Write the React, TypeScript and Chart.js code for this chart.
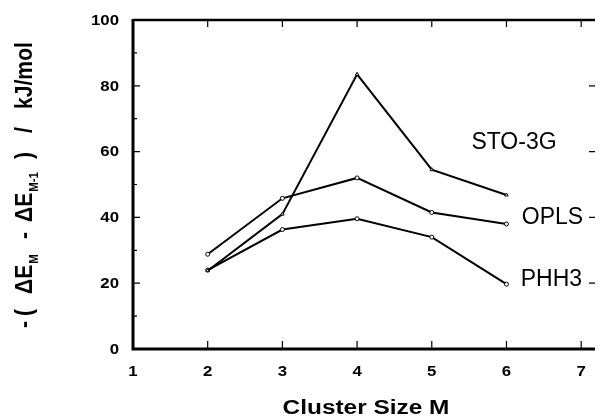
import React, { useEffect, useRef } from "react";
import { Chart, registerables } from "chart.js";
Chart.register(...registerables);

const clusterSizes = [2, 3, 4, 5, 6];
const sto3g = [23.8, 41.0, 83.5, 54.5, 46.8];
const opls = [28.8, 45.8, 52.0, 41.5, 38.0];
const phh3 = [24.0, 36.3, 39.6, 34.0, 19.7];
const xTickValues = [1, 2, 3, 4, 5, 6, 7];
const yTickValues = [0, 20, 40, 60, 80, 100];
const yMinorTickValues = [10, 30, 50, 70, 90];
const seriesNames = ["STO-3G", "OPLS", "PHH3"];
const xTitle = "Cluster Size M";
// y-axis title pieces: [text, offset along the text line in px (null = right after previous), subscript?]
const yTitleParts: [string, number | null, boolean][] = [
  ["-", 0, false],
  ["(", 12, false],
  ["ΔE", 34, false],
  ["M", null, true],
  ["-", 89, false],
  ["ΔE", 106, false],
  ["M-1", null, true],
  [")", 169, false],
  ["/", 195, false],
  ["kJ/mol", 219, false],
];

const FONT = "'Liberation Sans', Arial, Helvetica, sans-serif";
const SX = 1.2;

const toPoints = (ys: number[]) => clusterSizes.map((x, i) => ({ x, y: ys[i] }));

function stretchedText(ctx: any, text: string, x: number, y: number, align: string, sx: number) {
  ctx.save();
  ctx.translate(x, y);
  ctx.scale(sx, 1);
  ctx.textAlign = align;
  ctx.fillText(text, 0, 0);
  ctx.restore();
}

const decorPlugin = {
  id: "decor",
  afterDraw(chart: any) {
    const ctx = chart.ctx;
    const xs = chart.scales.x;
    const ys = chart.scales.y;
    const ca = chart.chartArea;
    ctx.save();
    ctx.strokeStyle = "#000";
    ctx.fillStyle = "#000";
    ctx.lineCap = "butt";
    // frame
    ctx.lineWidth = 3;
    ctx.beginPath();
    ctx.moveTo(ca.left, ca.top - 1);
    ctx.lineTo(ca.left, ca.bottom);
    ctx.lineTo(ca.right, ca.bottom);
    ctx.stroke();
    ctx.lineWidth = 2.5;
    ctx.beginPath();
    ctx.moveTo(ca.left, ca.top);
    ctx.lineTo(ca.right, ca.top);
    ctx.stroke();
    // inward ticks
    ctx.lineWidth = 1.2;
    ctx.beginPath();
    xTickValues.forEach((v) => {
      if (v === 1) return;
      const px = xs.getPixelForValue(v);
      ctx.moveTo(px, ca.bottom);
      ctx.lineTo(px, ca.bottom - 8);
      ctx.moveTo(px, ca.top);
      ctx.lineTo(px, ca.top + 7);
    });
    yTickValues.forEach((v) => {
      if (v === 0 || v === 100) return;
      const py = ys.getPixelForValue(v);
      ctx.moveTo(ca.left, py);
      ctx.lineTo(ca.left + 7, py);
      ctx.moveTo(ca.right, py);
      ctx.lineTo(ca.right - 6, py);
    });
    yMinorTickValues.forEach((v) => {
      const py = ys.getPixelForValue(v);
      ctx.moveTo(ca.left, py);
      ctx.lineTo(ca.left + 4, py);
    });
    ctx.stroke();

    // tick labels
    ctx.font = `bold 14px ${FONT}`;
    ctx.textBaseline = "middle";
    yTickValues.forEach((v) => {
      stretchedText(ctx, String(v), 119, ys.getPixelForValue(v) + 1, "right", SX);
    });
    xTickValues.forEach((v) => {
      stretchedText(ctx, String(v), xs.getPixelForValue(v), 372.5, "center", SX);
    });

    // series labels
    ctx.font = `23px ${FONT}`;
    ctx.textAlign = "left";
    ctx.textBaseline = "middle";
    const labelPos = [
      [5.53, 62.6],
      [6.205, 39.8],
      [6.19, 21.0],
    ];
    seriesNames.forEach((n, i) => {
      ctx.fillText(n, xs.getPixelForValue(labelPos[i][0]), ys.getPixelForValue(labelPos[i][1]));
    });

    // x axis title
    ctx.font = `bold 20px ${FONT}`;
    ctx.textBaseline = "alphabetic";
    stretchedText(ctx, xTitle, (ca.left + ca.right) / 2 + 2, 414, "center", 1.22);

    // y axis title with subscripts
    const k = 0.88;
    ctx.save();
    ctx.translate(32, 328);
    ctx.rotate(-Math.PI / 2);
    ctx.scale(k, 1);
    ctx.textAlign = "left";
    ctx.textBaseline = "alphabetic";
    let cursor = 0;
    yTitleParts.forEach(([t, s, sub]) => {
      ctx.font = sub ? `bold 13px ${FONT}` : `bold 24px ${FONT}`;
      const pos = s === null ? cursor + 1 : s / k;
      ctx.fillText(t, pos, sub ? 6 : 0);
      cursor = pos + ctx.measureText(t).width;
    });
    ctx.restore();
    ctx.restore();
  },
};

export default function App() {
  const ref = useRef<HTMLCanvasElement>(null);
  useEffect(() => {
    if (!ref.current) return;
    const common = {
      borderColor: "#000",
      backgroundColor: "#fff",
      pointBorderColor: "#000",
      pointBackgroundColor: "#fff",
      borderWidth: 2,
      pointRadius: 2,
      pointBorderWidth: 1,
      tension: 0,
    };
    const chart = new Chart(ref.current, {
      type: "line",
      data: {
        datasets: [
          { label: seriesNames[0], data: toPoints(sto3g), pointStyle: "triangle", ...common },
          { label: seriesNames[1], data: toPoints(opls), pointStyle: "circle", ...common },
          { label: seriesNames[2], data: toPoints(phh3), pointStyle: "circle", ...common },
        ],
      },
      options: {
        animation: false,
        responsive: false,
        devicePixelRatio: 1,
        layout: { padding: { top: 20, right: 0, left: 0, bottom: 0 } },
        plugins: { legend: { display: false }, tooltip: { enabled: false } },
        scales: {
          x: {
            type: "linear",
            min: 1,
            max: 7.185,
            afterBuildTicks: (s: any) => {
              s.ticks = xTickValues.map((v) => ({ value: v }));
            },
            afterFit: (s: any) => {
              s.height = 67;
            },
            grid: { display: false, drawTicks: false },
            border: { display: false },
            ticks: { display: false },
          },
          y: {
            type: "linear",
            min: 0,
            max: 100,
            afterBuildTicks: (s: any) => {
              s.ticks = yTickValues.map((v) => ({ value: v }));
            },
            afterFit: (s: any) => {
              s.width = 133;
            },
            grid: { display: false, drawTicks: false },
            border: { display: false },
            ticks: { display: false },
          },
        },
      },
      plugins: [decorPlugin],
    } as any);
    return () => chart.destroy();
  }, []);
  return (
    <div style={{ position: "fixed", left: 0, top: 0, width: 600, height: 416, background: "#fff" }}>
      <canvas ref={ref} width={600} height={416} style={{ width: 600, height: 416 }} />
    </div>
  );
}
